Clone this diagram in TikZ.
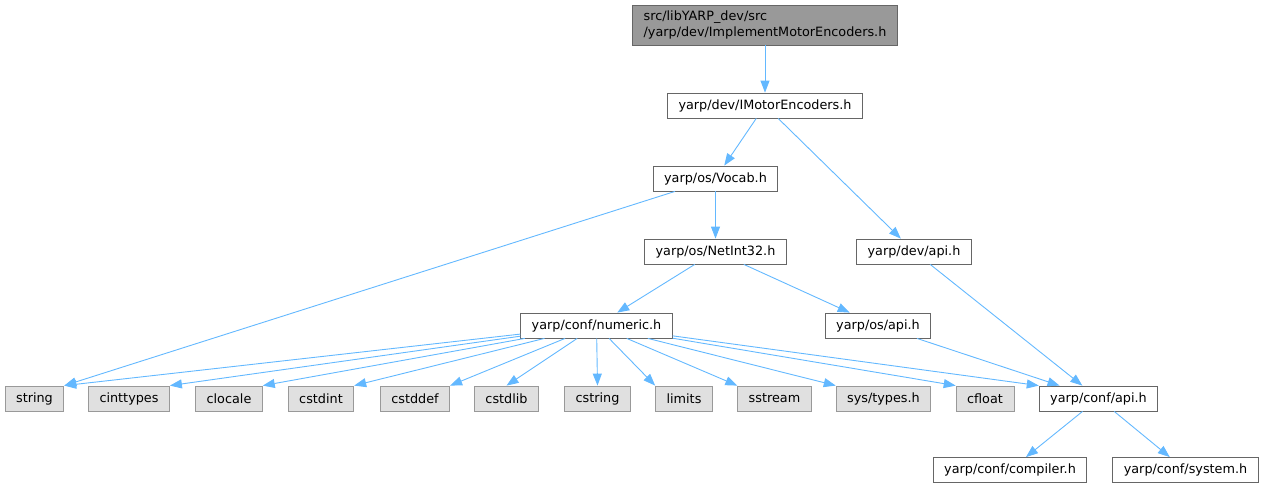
\documentclass[tikz,border=0pt]{standalone}
\usepackage{fontspec}
\setmainfont{DejaVu Sans}
\usetikzlibrary{arrows.meta}
\definecolor{edgeblue}{HTML}{63B8FF}
\definecolor{rootgray}{HTML}{999999}
\definecolor{sysgray}{HTML}{E0E0E0}
\begin{document}
\begin{tikzpicture}[
    x=1pt, y=-1pt,
    hdr/.style={draw=black!60, fill=white, line width=0.8pt,
        font=\fontsize{12.8}{16}\selectfont,
        inner xsep=11pt, inner ysep=0pt, minimum height=25pt},
    roothdr/.style={hdr, fill=rootgray, align=left, minimum height=40pt},
    syshdr/.style={hdr, draw=rootgray, fill=sysgray},
    dep/.style={draw=edgeblue, line width=0.9pt,
        -{Triangle[length=12pt,width=9pt]}}
  ]
  % 画布大小(像素)
  \useasboundingbox (0,0) rectangle (1264,491);

  % 各层头文件
  \node[roothdr] (impl) at (765,25) {src/libYARP\_dev/src\\/yarp/dev/ImplementMotorEncoders.h};
  \node[hdr] (imotor) at (765,105.5) {yarp/dev/IMotorEncoders.h};
  \node[hdr] (vocab) at (715.5,178.5) {yarp/os/Vocab.h};
  \node[hdr] (netint) at (715.5,251.5) {yarp/os/NetInt32.h};
  \node[hdr] (devapi) at (914,251.5) {yarp/dev/api.h};
  \node[hdr] (numeric) at (596.5,325.5) {yarp/conf/numeric.h};
  \node[hdr] (osapi) at (878,325.5) {yarp/os/api.h};

  % 标准库头文件(灰色)
  \node[syshdr] (string) at (34.5,398.5) {string};
  \node[syshdr] (cinttypes) at (129,398.5) {cinttypes};
  \node[syshdr] (clocale) at (229,398.5) {clocale};
  \node[syshdr] (cstdint) at (321,398.5) {cstdint};
  \node[syshdr] (cstddef) at (415,398.5) {cstddef};
  \node[syshdr] (cstdlib) at (506.5,398.5) {cstdlib};
  \node[syshdr] (cstring) at (597.5,398.5) {cstring};
  \node[syshdr] (limits) at (684,398.5) {limits};
  \node[syshdr] (sstream) at (774.5,398.5) {sstream};
  \node[syshdr] (systypes) at (883.5,398.5) {sys/types.h};
  \node[syshdr] (cfloat) at (985,398.5) {cfloat};
  \node[hdr] (confapi) at (1098.5,398.5) {yarp/conf/api.h};

  \node[hdr] (compiler) at (1010,470) {yarp/conf/compiler.h};
  \node[hdr] (system) at (1185.5,470) {yarp/conf/system.h};

  % 包含关系
  \draw[dep] (impl) -- (imotor);
  \draw[dep] (imotor) -- (vocab);
  \draw[dep] (imotor) -- (devapi);
  \draw[dep] (vocab) -- (string.north east);
  \draw[dep] (vocab) -- (netint);
  \draw[dep] (netint) -- (numeric);
  \draw[dep] (netint) -- (osapi);
  \draw[dep] (devapi) -- (confapi);
  % numeric.h 的箭头指向各目标框的角
  \foreach \leaf/\corner in {string/north east, cinttypes/north east,
      clocale/north east, cstdint/north east, cstddef/north east,
      cstdlib/north, cstring/north, limits/north west, sstream/north west,
      systypes/north west, cfloat/north west, confapi/north west}
    \draw[dep] (numeric) -- (\leaf.\corner);
  \draw[dep] (osapi) -- (confapi);
  \draw[dep] (confapi) -- (compiler);
  \draw[dep] (confapi) -- (system);
\end{tikzpicture}
\end{document}
